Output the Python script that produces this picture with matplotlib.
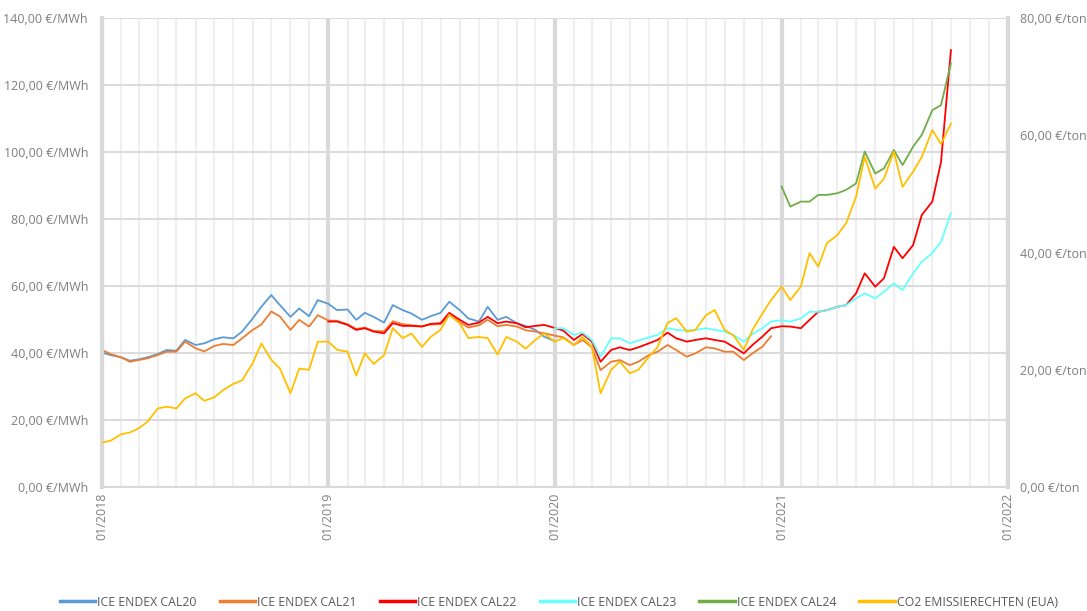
import numpy as np
import pandas as pd
import matplotlib
matplotlib.use('Agg')
import matplotlib.pyplot as plt
import matplotlib.dates as mdates
from matplotlib.ticker import FuncFormatter, MultipleLocator

plt.rcParams['font.family'] = ['Open Sans', 'DejaVu Sans']

# semi-monthly sampling (1st and 15th of each month)
dates = pd.date_range('2018-01-01', '2021-10-01', freq='SMS')

# ICE ENDEX base year contracts, €/MWh (left axis)
cal20 = [40.1, 39.4, 38.7, 37.7, 38.1, 38.7, 39.7, 40.9, 40.7, 43.9, 42.4, 42.9, 44.1, 44.7, 44.4, 46.4,
         50.3, 53.8, 57.3, 54.3, 50.8, 53.3, 51.0, 55.8, 54.7, 52.8, 53.0, 49.9, 52.0, 50.8, 49.1, 54.3,
         52.8, 51.8, 49.9, 51.0, 52.0, 55.3, 52.8, 50.3, 49.4, 53.8, 49.9, 50.8, 48.9, 48.1, 46.9, 44.9, 43.5]
cal21 = [40.9, 39.7, 38.7, 37.4, 37.9, 38.4, 39.4, 40.4, 40.4, 43.4, 41.4, 40.5, 42.1, 42.7, 42.4, 44.4,
         46.9, 48.5, 52.4, 50.9, 46.9, 49.9, 47.9, 51.3, 49.7, 49.6, 48.6, 47.2, 47.6, 46.6, 46.5, 49.5,
         48.6, 48.3, 48.0, 48.5, 48.6, 51.5, 49.2, 47.6, 48.3, 49.9, 48.0, 48.4, 47.9, 46.8, 46.4, 45.9,
         45.2, 44.7, 42.4, 43.9, 41.7, 34.9, 37.4, 37.9, 36.4, 37.4, 39.4, 40.4, 42.4, 40.9, 38.9, 39.9,
         41.7, 41.4, 40.4, 40.4, 37.9, 39.9, 41.9, 45.0]
cal22 = [49.4, 49.4, 48.4, 46.9, 47.4, 46.4, 45.9, 48.9, 48.1, 48.1, 47.9, 48.7, 48.9, 52.0, 49.9, 48.4,
         49.1, 50.8, 48.9, 49.4, 48.9, 47.7, 48.1, 48.4, 47.5, 46.7, 43.9, 45.7, 43.4, 37.4, 40.9, 41.7,
         40.9, 41.7, 42.9, 43.9, 46.1, 44.4, 43.4, 43.9, 44.4, 43.9, 43.4, 41.9, 39.9, 42.4, 44.9, 47.4,
         48.0, 47.9, 47.4, 49.9, 52.3, 52.8, 53.8, 54.3, 57.8, 63.8, 59.8, 62.3, 71.7, 68.3, 72.2, 81.2,
         85.2, 97.0, 130.4]
cal23 = [47.4, 47.4, 45.4, 46.1, 43.9, 38.9, 44.4, 44.4, 42.9, 43.7, 44.7, 45.4, 47.4, 46.9, 46.7, 46.9,
         47.4, 46.9, 46.4, 45.4, 43.4, 45.7, 47.4, 49.4, 49.8, 49.4, 50.3, 52.3, 52.3, 52.8, 53.8, 54.3,
         56.3, 57.8, 56.3, 58.3, 60.8, 58.8, 63.8, 67.3, 69.8, 73.2, 81.7]
cal24 = [89.7, 83.7, 85.2, 85.2, 87.2, 87.2, 87.7, 88.7, 90.6, 100.1, 93.6, 95.1, 100.6, 96.1, 101.6,
         105.1, 112.5, 114.0, 126.5]
# EUA CO2 allowances, €/ton (right axis)
co2 = [7.6, 7.9, 9.0, 9.3, 10.0, 11.1, 13.4, 13.7, 13.4, 15.1, 16.0, 14.7, 15.3, 16.5, 17.6, 18.2,
       21.1, 24.5, 21.7, 20.2, 16.0, 20.2, 20.0, 24.8, 24.8, 23.4, 23.1, 19.0, 22.8, 21.0, 22.5, 27.1,
       25.4, 26.2, 23.9, 25.6, 26.8, 29.4, 27.9, 25.4, 25.6, 25.4, 22.6, 25.6, 24.8, 23.6, 25.1, 26.2,
       24.8, 25.4, 24.2, 25.6, 23.9, 16.0, 20.0, 21.4, 19.4, 20.0, 22.2, 23.9, 28.0, 28.8, 26.5, 26.8,
       29.3, 30.2, 26.8, 25.9, 23.4, 26.8, 29.6, 31.9, 34.2, 31.9, 34.2, 39.9, 37.6, 41.6, 43.0, 45.0,
       49.5, 56.3, 50.9, 52.6, 57.2, 51.2, 53.8, 56.3, 60.9, 58.5, 62.0]

series = [
    ('ICE ENDEX CAL20', cal20, 0, '#5b9bd5'),
    ('ICE ENDEX CAL21', cal21, 0, '#ed7d31'),
    ('ICE ENDEX CAL22', cal22, 24, '#ff0000'),
    ('ICE ENDEX CAL23', cal23, 48, '#66ffff'),
    ('ICE ENDEX CAL24', cal24, 72, '#70ad47'),
]

fig = plt.figure(figsize=(10.87, 6.11), dpi=100)
ax = fig.add_axes([0.0938, 0.2029, 0.8335, 0.7676])
ax2 = ax.twinx()

handles = []
for label, vals, start, col in series:
    h, = ax.plot(dates[start:start + len(vals)], vals, color=col, lw=1.3, label=label)
    handles.append(h)
h, = ax2.plot(dates[:len(co2)], co2, color='#ffc000', lw=1.3, label='CO2 EMISSIERECHTEN (EUA)')
handles.append(h)

ax.set_xlim(pd.Timestamp('2018-01-01'), pd.Timestamp('2022-01-01'))
ax.set_ylim(0, 140)
ax2.set_ylim(0, 80)
ax.yaxis.set_major_locator(MultipleLocator(20))
ax2.yaxis.set_major_locator(MultipleLocator(20))
ax.yaxis.set_major_formatter(FuncFormatter(lambda v, p: f'{v:.2f}'.replace('.', ',') + ' €/MWh'))
ax2.yaxis.set_major_formatter(FuncFormatter(lambda v, p: f'{v:.2f}'.replace('.', ',') + ' €/ton'))

ax.xaxis.set_major_locator(mdates.YearLocator())
ax.xaxis.set_major_formatter(mdates.DateFormatter('%m/%Y'))
ax.xaxis.set_minor_locator(mdates.MonthLocator())

ax.grid(axis='x', which='minor', color='#efefef', lw=1.5)
ax.grid(axis='x', which='major', color='#d9d9d9', lw=3)
ax.grid(axis='y', which='major', color='#dcdcdc', lw=1.5)
ax.set_axisbelow(True)

for a in (ax, ax2):
    for s in a.spines.values():
        s.set_visible(False)
for side, w in (('left', 3), ('right', 3), ('bottom', 1.5)):
    ax.spines[side].set_visible(True)
    ax.spines[side].set_color('#d9d9d9')
    ax.spines[side].set_linewidth(w)

ax.tick_params(axis='both', which='both', length=0, labelsize=9, labelcolor='#7f7f7f')
ax.tick_params(axis='y', pad=10)
ax.tick_params(axis='x', pad=4, labelrotation=90)
ax2.tick_params(axis='y', length=0, labelsize=9, labelcolor='#7f7f7f', pad=9)

leg = fig.legend(handles=handles, loc='lower center', bbox_to_anchor=(0.514, -0.004), ncol=6,
                 frameon=False, fontsize=8.8, handlelength=2.9, columnspacing=1.9, handletextpad=0.15,
                 borderaxespad=0.0)
for t in leg.get_texts():
    t.set_color('#595959')
for l in leg.get_lines():
    l.set_linewidth(2.5)

fig.savefig('out.png', dpi=100)
